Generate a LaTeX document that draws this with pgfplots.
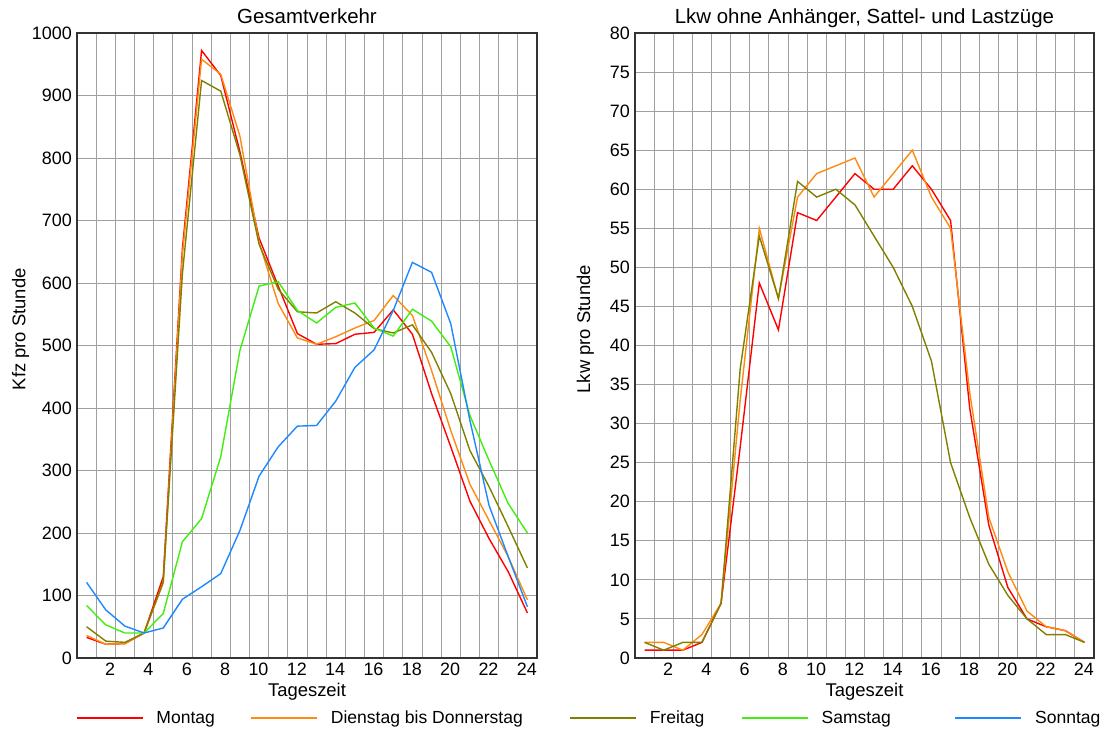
\documentclass[border=0pt]{standalone}
\usepackage{fontspec}
\setmainfont{Liberation Sans}
\usepackage{pgfplots}
\usepackage{pgfplotstable}
\pgfplotsset{compat=1.18}

\definecolor{cMo}{HTML}{FF0000}
\definecolor{cDi}{HTML}{FF8A10}
\definecolor{cFr}{HTML}{808000}
\definecolor{cSa}{HTML}{40EE10}
\definecolor{cSo}{HTML}{1E88FF}
\definecolor{cGrid}{HTML}{A0A0A0}

% Hourly traffic volumes (values at the middle of each hour)
\pgfplotstableread{
h    Mo   Di   Fr   Sa   So
0.5  33   36   50   84   121
1.5  22   22   27   53   77
2.5  23   23   25   40   51
3.5  40   40   40   40   40
4.5  130  120  122  71   48
5.5  655  645  615  186  94
6.5  972  958  924  223  114
7.5  932  934  907  322  135
8.5  810  835  805  492  204
9.5  672  665  662  595  291
10.5 595  567  590  602  338
11.5 519  512  554  556  371
12.5 502  502  552  536  372
13.5 503  514  570  561  411
14.5 518  528  552  568  465
15.5 521  540  527  528  493
16.5 557  580  520  515  556
17.5 518  548  533  558  633
18.5 423  460  489  539  617
19.5 338  364  423  498  535
20.5 251  278  332  388  380
21.5 191  220  274  316  244
22.5 138  162  210  247  162
23.5 72   93   144  200  82
}\gesamt

\pgfplotstableread{
h    Mo   Di   Fr
0.5  1    2    2
1.5  1    2    1
2.5  1    1    2
3.5  2    3    2
4.5  7    7    7
5.5  27   33   37
6.5  48   55   54
7.5  42   46   46
8.5  57   59   61
9.5  56   62   59
10.5 59   63   60
11.5 62   64   58
12.5 60   59   54
13.5 60   62   50
14.5 63   65   45
15.5 60   59   38
16.5 56   55   25
17.5 32   34   18
18.5 17   18   12
19.5 9    11   8
20.5 5    6    5
21.5 4    4    3
22.5 3.5  3.5  3
23.5 2    2    2
}\lkw

% fixed-width legend text so the entries sit in their columns
\newcommand\legtext[2]{\makebox[#1][l]{#2}}

\pgfplotsset{
  tagesgang/.style={
    scale only axis,
    height=625bp,
    xmin=0, xmax=24,
    xtick={2,4,...,24},
    minor xtick={1,3,...,23},
    xmajorgrids, xminorgrids, ymajorgrids,
    grid style={color=cGrid, line width=0.9bp},
    minor grid style={color=cGrid, line width=0.9bp},
    axis line style={draw=black!80, line width=1.3bp},
    tick style={draw=none},
    major tick length=0pt, minor tick length=0pt,
    scaled y ticks=false,
    /pgf/number format/1000 sep={},
    /pgf/number format/assume math mode=true,
    tick label style={font=\fontsize{18}{20}\selectfont},
    yticklabel style={inner sep=0pt, anchor=east, xshift=-5bp},
    xticklabel style={inner sep=0pt, anchor=north east, yshift=-5bp},
    xlabel={Tageszeit},
    xlabel style={font=\fontsize{18.5}{21}\selectfont, at={(axis description cs:0.5,0)},
      anchor=base, inner sep=0pt, yshift=-39bp},
    title style={font=\fontsize{20.5}{24}\selectfont, at={(axis description cs:0.5,1)},
      anchor=base, inner sep=0pt, yshift=3.7bp},
    every axis plot/.append style={line width=1.4bp, mark=none},
  }
}

\begin{document}
\begin{tikzpicture}
\path[use as bounding box] (0,0) rectangle (1105bp,735bp);

% Total traffic
\begin{axis}[tagesgang,
  at={(77bp,77bp)}, anchor=south west,
  width=460bp,
  ymin=0, ymax=1000, ytick={0,100,...,1000},
  title={Gesamtverkehr},
  ylabel={Kfz pro Stunde},
  ylabel style={font=\fontsize{18.5}{21}\selectfont, at={(axis description cs:-0.112,0.526)},
    anchor=base, inner sep=0pt},
  legend columns=5,
  legend cell align=left,
  legend image code/.code={\draw[#1, line width=1.4bp] (0bp,0bp) -- (66bp,0bp);},
  legend style={at={(axis description cs:-0.002,-0.096)}, anchor=west,
    draw=none, fill=none, inner sep=0pt, outer sep=0pt,
    font=\fontsize{17.6}{20}\selectfont,
    nodes={inner sep=0pt},
    /tikz/every odd column/.append style={column sep=13bp},
    /tikz/every even column/.append style={column sep=0bp}},
]
\addplot[cMo] table[x=h, y=Mo] {\gesamt};
\addlegendentry{\legtext{94bp}{Montag}}
\addplot[cDi] table[x=h, y=Di] {\gesamt};
\addlegendentry{\legtext{238.5bp}{Dienstag bis Donnerstag}}
\addplot[cFr] table[x=h, y=Fr] {\gesamt};
\addlegendentry{\legtext{91.5bp}{Freitag}}
\addplot[cSa] table[x=h, y=Sa] {\gesamt};
\addlegendentry{\legtext{133bp}{Samstag}}
\addplot[cSo] table[x=h, y=So] {\gesamt};
\addlegendentry{\legtext{60bp}{Sonntag}}
\end{axis}

% Lorries
\begin{axis}[tagesgang,
  at={(635bp,77bp)}, anchor=south west,
  width=459bp,
  ymin=0, ymax=80, ytick={0,5,...,80},
  title={Lkw ohne Anhänger, Sattel- und Lastzüge},
  ylabel={Lkw pro Stunde},
  ylabel style={font=\fontsize{18.5}{21}\selectfont, at={(axis description cs:-0.098,0.526)},
    anchor=base, inner sep=0pt},
]
\addplot[cMo] table[x=h, y=Mo] {\lkw};
\addplot[cDi] table[x=h, y=Di] {\lkw};
\addplot[cFr] table[x=h, y=Fr] {\lkw};
\end{axis}
\end{tikzpicture}
\end{document}
